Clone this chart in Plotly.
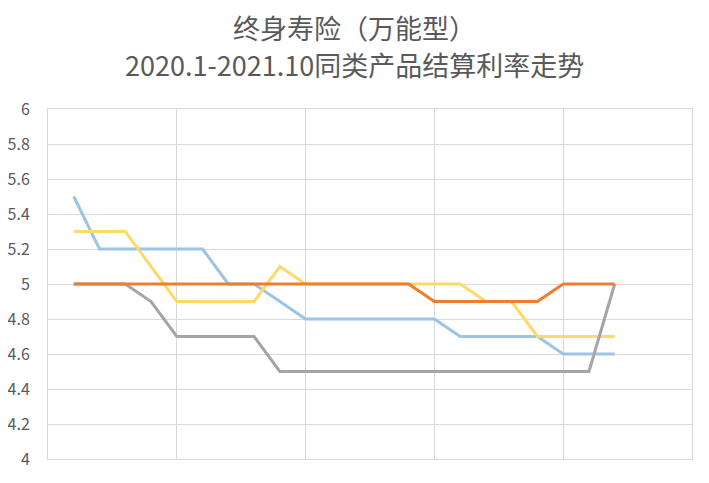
"""
终身寿险（万能型）同类产品结算利率走势, 2020.1-2021.10
"""

import plotly.graph_objects as go

# months on the x axis (labels are hidden in the chart, used for hover)
months = [f"2020.{m}" for m in range(1, 13)] + [f"2021.{m}" for m in range(1, 11)]

# settlement rates (%)
blue_rates = [5.5, 5.2, 5.2, 5.2, 5.2, 5.2, 5.0, 5.0, 4.9, 4.8, 4.8,
              4.8, 4.8, 4.8, 4.8, 4.7, 4.7, 4.7, 4.7, 4.6, 4.6, 4.6]
yellow_rates = [5.3, 5.3, 5.3, 5.1, 4.9, 4.9, 4.9, 4.9, 5.1, 5.0, 5.0,
                5.0, 5.0, 5.0, 5.0, 5.0, 4.9, 4.9, 4.7, 4.7, 4.7, 4.7]
gray_rates = [5.0, 5.0, 5.0, 4.9, 4.7, 4.7, 4.7, 4.7, 4.5, 4.5, 4.5,
              4.5, 4.5, 4.5, 4.5, 4.5, 4.5, 4.5, 4.5, 4.5, 4.5, 5.0]
orange_rates = [5.0, 5.0, 5.0, 5.0, 5.0, 5.0, 5.0, 5.0, 5.0, 5.0, 5.0,
                5.0, 5.0, 5.0, 4.9, 4.9, 4.9, 4.9, 4.9, 5.0, 5.0, 5.0]

y_ticks = [4, 4.2, 4.4, 4.6, 4.8, 5, 5.2, 5.4, 5.6, 5.8, 6]
y_tick_text = ["4", "4.2", "4.4", "4.6", "4.8", "5", "5.2", "5.4", "5.6", "5.8", "6"]

title_lines = ["终身寿险（万能型）", "2020.1-2021.10同类产品结算利率走势"]

x_pos = list(range(len(months)))

series = [
    ("产品A", blue_rates, "#9DC3E6"),
    ("产品B", yellow_rates, "#FFD966"),
    ("产品C", gray_rates, "#A5A5A5"),
    ("产品D", orange_rates, "#ED7D31"),
]

fig = go.Figure()
for name, rates, color in series:
    fig.add_trace(go.Scatter(
        x=x_pos,
        y=rates,
        customdata=months,
        name=name,
        mode="lines",
        line=dict(color=color, width=3),
        hovertemplate="%{customdata}: %{y}<extra>" + name + "</extra>",
    ))

font_family = "Noto Sans CJK SC, Noto Sans, sans-serif"

# two title lines placed as annotations so they sit where the original does
for text, y in zip(title_lines, [1.234, 1.126]):
    fig.add_annotation(
        text=text,
        xref="paper", yref="paper",
        x=0.476, y=y,
        xanchor="center", yanchor="middle",
        showarrow=False,
        font=dict(size=27, color="#595959", family=font_family),
    )

# page body has an 8px margin, so the figure is a bit smaller than the window
fig.update_layout(
    width=701,
    height=475,
    margin=dict(l=40, r=17, t=101, b=24),
    paper_bgcolor="white",
    plot_bgcolor="white",
    showlegend=False,
    font=dict(family=font_family, color="#595959"),
)

# gridlines every 5 months, range padded like the original
fig.update_xaxes(
    range=[-1, 24],
    tickvals=[-1, 4, 9, 14, 19, 24],
    showticklabels=False,
    showgrid=True,
    gridcolor="#D9D9D9",
    gridwidth=1,
    zeroline=False,
    showline=True,
    linecolor="#D9D9D9",
    mirror=True,
    ticks="",
    automargin=False,
)
fig.update_yaxes(
    range=[4, 6],
    tickvals=y_ticks,
    ticktext=y_tick_text,
    tickfont=dict(size=16, color="#595959"),
    showgrid=True,
    gridcolor="#D9D9D9",
    gridwidth=1,
    zeroline=False,
    showline=True,
    linecolor="#D9D9D9",
    mirror=True,
    ticks="",
    ticklabelstandoff=14,
    automargin=False,
)

fig.write_html("out.html")
